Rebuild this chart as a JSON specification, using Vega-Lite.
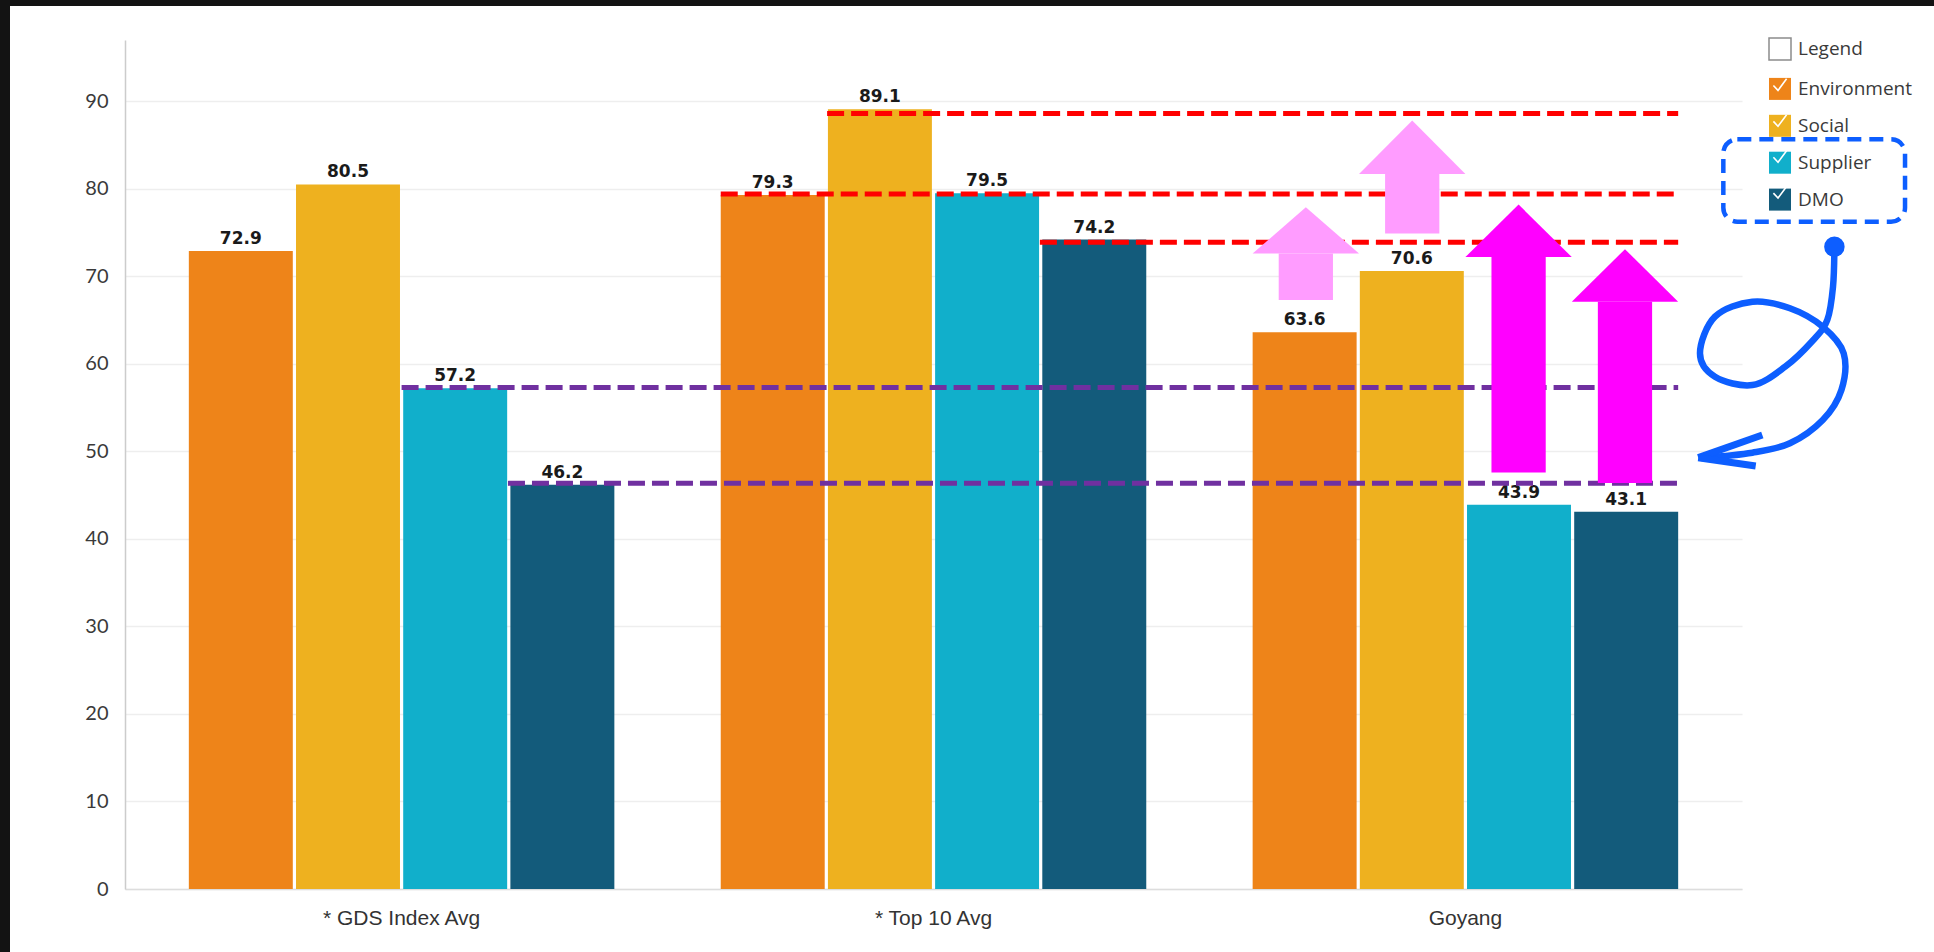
{
  "$schema": "https://vega.github.io/schema/vega-lite/v6.json",
  "background": "#ffffff",
  "padding": 0,
  "autosize": {"type": "pad"},
  "width": 1617,
  "height": 849,
  "config": {"view": {"stroke": null}, "font": "Lato"},
  "datasets": {
    "bars": [
      {"group": "* GDS Index Avg", "series": "Environment", "value": 72.9},
      {"group": "* GDS Index Avg", "series": "Social", "value": 80.5},
      {"group": "* GDS Index Avg", "series": "Supplier", "value": 57.2},
      {"group": "* GDS Index Avg", "series": "DMO", "value": 46.2},
      {"group": "* Top 10 Avg", "series": "Environment", "value": 79.3},
      {"group": "* Top 10 Avg", "series": "Social", "value": 89.1},
      {"group": "* Top 10 Avg", "series": "Supplier", "value": 79.5},
      {"group": "* Top 10 Avg", "series": "DMO", "value": 74.2},
      {"group": "Goyang", "series": "Environment", "value": 63.6},
      {"group": "Goyang", "series": "Social", "value": 70.6},
      {"group": "Goyang", "series": "Supplier", "value": 43.9},
      {"group": "Goyang", "series": "DMO", "value": 43.1}
    ],
    "legendItems": [
      {"entry": "Legend check"}, {"entry": "Environment check"}, {"entry": "Social check"}, {"entry": "Supplier check"}, {"entry": "DMO check"}
    ],
    "frame": [
      {"side": "left", "x0": -0.755, "x1": -0.7362, "y0": -7.2, "y1": 101.57},
      {"side": "top", "x0": -0.755, "x1": 2.881, "y0": 100.88, "y1": 101.57}
    ],
    "refs": [
      {"ref": "Top 10 Social", "kind": "top10", "start": 0.8, "end": 2.4, "level": 88.6},
      {"ref": "Top 10 Environment/Supplier", "kind": "top10", "start": 0.6, "end": 2.4, "level": 79.4},
      {"ref": "Top 10 DMO", "kind": "top10", "start": 1.2, "end": 2.4, "level": 73.9},
      {"ref": "GDS Supplier", "kind": "gds", "start": 0.0, "end": 2.4, "level": 57.3},
      {"ref": "GDS DMO", "kind": "gds", "start": 0.2, "end": 2.4, "level": 46.35}
    ],
    "shafts": [
      {"arrow": "Environment", "kind": "light", "left": 1.649, "right": 1.751, "bottom": 67.3, "top": 72.6},
      {"arrow": "Social", "kind": "light", "left": 1.849, "right": 1.951, "bottom": 74.9, "top": 81.7},
      {"arrow": "Supplier", "kind": "strong", "left": 2.049, "right": 2.151, "bottom": 47.6, "top": 72.2},
      {"arrow": "DMO", "kind": "strong", "left": 2.249, "right": 2.351, "bottom": 46.4, "top": 67.1}
    ],
    "heads": [
      {"arrow": "Environment", "kind": "light", "u": 1.6, "v": 72.6, "base": 72.6},
      {"arrow": "Environment", "kind": "light", "u": 1.7, "v": 77.9, "base": 72.6},
      {"arrow": "Environment", "kind": "light", "u": 1.8, "v": 72.6, "base": 72.6},
      {"arrow": "Social", "kind": "light", "u": 1.8, "v": 81.7, "base": 81.7},
      {"arrow": "Social", "kind": "light", "u": 1.9, "v": 87.8, "base": 81.7},
      {"arrow": "Social", "kind": "light", "u": 2.0, "v": 81.7, "base": 81.7},
      {"arrow": "Supplier", "kind": "strong", "u": 2.0, "v": 72.2, "base": 72.2},
      {"arrow": "Supplier", "kind": "strong", "u": 2.1, "v": 78.2, "base": 72.2},
      {"arrow": "Supplier", "kind": "strong", "u": 2.2, "v": 72.2, "base": 72.2},
      {"arrow": "DMO", "kind": "strong", "u": 2.2, "v": 67.1, "base": 67.1},
      {"arrow": "DMO", "kind": "strong", "u": 2.3, "v": 73.1, "base": 67.1},
      {"arrow": "DMO", "kind": "strong", "u": 2.4, "v": 67.1, "base": 67.1}
    ],
    "box": [{"u0": 2.4849, "u1": 2.8265, "v0": 76.24, "v1": 85.65}],
    "curve": [
      {"i": 1, "u": 2.6937, "v": 73.38},
      {"i": 2, "u": 2.6911, "v": 68.81},
      {"i": 3, "u": 2.6804, "v": 65.01},
      {"i": 4, "u": 2.6541, "v": 62.72},
      {"i": 5, "u": 2.6012, "v": 59.67},
      {"i": 6, "u": 2.5396, "v": 57.58},
      {"i": 7, "u": 2.4692, "v": 58.53},
      {"i": 8, "u": 2.441, "v": 61.2},
      {"i": 9, "u": 2.4692, "v": 65.39},
      {"i": 10, "u": 2.5396, "v": 67.1},
      {"i": 11, "u": 2.6101, "v": 66.35},
      {"i": 12, "u": 2.6718, "v": 64.24},
      {"i": 13, "u": 2.7112, "v": 61.2},
      {"i": 14, "u": 2.7069, "v": 57.01},
      {"i": 15, "u": 2.6718, "v": 53.58},
      {"i": 16, "u": 2.6101, "v": 50.92},
      {"i": 17, "u": 2.5396, "v": 49.85},
      {"i": 18, "u": 2.445, "v": 49.25}
    ],
    "barbs": [
      {"u": 2.4378, "v": 49.28, "u2": 2.5582, "v2": 51.87},
      {"u": 2.4378, "v": 49.28, "u2": 2.5458, "v2": 48.33}
    ],
    "dot": [{"u": 2.6937, "v": 73.38}]
  },
  "layer": [
    {
      "data": {"name": "bars"},
      "layer": [
        {
          "mark": {"type": "bar"},
          "encoding": {
            "x": {
              "field": "group", "type": "nominal", "sort": null,
              "scale": {"paddingInner": 0.2, "paddingOuter": 0.12},
              "axis": {"title": null, "labelAngle": 0, "labelFont": "Liberation Sans", "labelFontSize": 21, "labelColor": "#333333", "labelPadding": 18, "ticks": false, "domainColor": "#dddddd", "domainWidth": 1.5, "grid": false}
            },
            "xOffset": {"field": "series", "type": "nominal", "sort": ["Environment", "Social", "Supplier", "DMO"], "scale": {"paddingInner": 0.03, "paddingOuter": 0}},
            "y": {
              "field": "value", "type": "quantitative", "title": null,
              "scale": {"domain": [0, 97], "nice": false, "zero": false},
              "axis": {"title": null, "values": [0, 10, 20, 30, 40, 50, 60, 70, 80, 90], "labelFont": "Lato", "labelFontSize": 20, "labelColor": "#3a3a3a", "labelPadding": 17, "ticks": false, "domainColor": "#cccccc", "domainWidth": 1.5, "grid": true, "gridColor": "#eeeeee", "gridWidth": 1.5}
            },
            "color": {
              "field": "series", "type": "nominal",
              "scale": {"domain": ["Legend", "Environment", "Social", "Supplier", "DMO"], "range": ["#ffffff", "#EE8419", "#EEB11F", "#11AFCB", "#135B7B"]},
              "legend": {
                "orient": "none", "legendX": 1643, "legendY": -3, "title": null, "padding": 0, "zindex": 1,
                "symbolType": "square", "symbolSize": 484, "symbolStrokeWidth": 1.5,
                "labelFont": "Open Sans", "labelFontSize": 19, "labelColor": "#3a3a3a", "labelOffset": 6, "rowPadding": 13.9,
                "encode": {"symbols": {"update": {"stroke": {"signal": "datum.value === 'Legend' ? '#8c8c8c' : null"}}}}
              }
            }
          }
        },
        {
          "mark": {"type": "text", "baseline": "alphabetic", "dy": -7, "font": "DejaVu Sans", "fontWeight": "bold", "fontSize": 17, "color": "#1a1a1a"},
          "encoding": {
            "x": {"field": "group", "type": "nominal", "sort": null, "scale": {"paddingInner": 0.2, "paddingOuter": 0.12}},
            "xOffset": {"field": "series", "type": "nominal", "sort": ["Environment", "Social", "Supplier", "DMO"], "scale": {"paddingInner": 0.03, "paddingOuter": 0}},
            "y": {"field": "value", "type": "quantitative", "title": null, "scale": {"domain": [0, 97], "nice": false, "zero": false}},
            "text": {"field": "value", "type": "quantitative", "format": ".1f"}
          }
        }
      ]
    },
    {
      "layer": [
        {
          "data": {"name": "frame"},
          "mark": {"type": "rect", "fill": "#131313"},
          "encoding": {
            "x": {"field": "x0", "type": "quantitative", "scale": {"domain": [-0.52, 2.52], "nice": false, "zero": false}, "axis": null},
            "x2": {"field": "x1"},
            "y": {"field": "y0", "type": "quantitative", "title": null, "scale": {"domain": [0, 97], "nice": false, "zero": false}},
            "y2": {"field": "y1"}
          }
        },
        {
          "data": {"name": "refs"},
          "mark": {"type": "rule", "strokeWidth": 5, "strokeDash": [17, 7]},
          "encoding": {
            "x": {"field": "start", "type": "quantitative", "scale": {"domain": [-0.52, 2.52], "nice": false, "zero": false}, "axis": null},
            "x2": {"field": "end"},
            "y": {"field": "level", "type": "quantitative", "title": null, "scale": {"domain": [0, 97], "nice": false, "zero": false}},
            "color": {"condition": {"test": "datum.kind === 'top10'", "value": "#FF0000"}, "value": "#7030A0"}
          }
        },
        {
          "data": {"name": "shafts"},
          "mark": {"type": "rect"},
          "encoding": {
            "x": {"field": "left", "type": "quantitative", "scale": {"domain": [-0.52, 2.52], "nice": false, "zero": false}, "axis": null},
            "x2": {"field": "right"},
            "y": {"field": "bottom", "type": "quantitative", "title": null, "scale": {"domain": [0, 97], "nice": false, "zero": false}},
            "y2": {"field": "top"},
            "fill": {"condition": {"test": "datum.kind === 'strong'", "value": "#FF00FF"}, "value": "#FF9CFF"}
          }
        },
        {
          "data": {"name": "heads"},
          "mark": {"type": "area", "interpolate": "linear"},
          "encoding": {
            "x": {"field": "u", "type": "quantitative", "scale": {"domain": [-0.52, 2.52], "nice": false, "zero": false}, "axis": null},
            "y": {"field": "v", "type": "quantitative", "title": null, "stack": null, "scale": {"domain": [0, 97], "nice": false, "zero": false}},
            "y2": {"field": "base"},
            "detail": {"field": "arrow", "type": "nominal"},
            "fill": {"condition": {"test": "datum.kind === 'strong'", "value": "#FF00FF"}, "value": "#FF9CFF"}
          }
        },
        {
          "data": {"name": "box"},
          "mark": {"type": "rect", "fill": "transparent", "stroke": "#0D5EFF", "strokeWidth": 4.5, "strokeDash": [14, 8], "cornerRadius": 14},
          "encoding": {
            "x": {"field": "u0", "type": "quantitative", "scale": {"domain": [-0.52, 2.52], "nice": false, "zero": false}, "axis": null},
            "x2": {"field": "u1"},
            "y": {"field": "v0", "type": "quantitative", "title": null, "scale": {"domain": [0, 97], "nice": false, "zero": false}},
            "y2": {"field": "v1"}
          }
        },
        {
          "data": {"name": "curve"},
          "mark": {"type": "line", "interpolate": "cardinal", "strokeWidth": 6.5, "strokeCap": "round", "color": "#0D5EFF"},
          "encoding": {
            "x": {"field": "u", "type": "quantitative", "scale": {"domain": [-0.52, 2.52], "nice": false, "zero": false}, "axis": null},
            "y": {"field": "v", "type": "quantitative", "title": null, "scale": {"domain": [0, 97], "nice": false, "zero": false}},
            "order": {"field": "i", "type": "quantitative"}
          }
        },
        {
          "data": {"name": "barbs"},
          "mark": {"type": "rule", "strokeWidth": 7, "strokeCap": "butt", "color": "#0D5EFF"},
          "encoding": {
            "x": {"field": "u", "type": "quantitative", "scale": {"domain": [-0.52, 2.52], "nice": false, "zero": false}, "axis": null},
            "x2": {"field": "u2"},
            "y": {"field": "v", "type": "quantitative", "title": null, "scale": {"domain": [0, 97], "nice": false, "zero": false}},
            "y2": {"field": "v2"}
          }
        },
        {
          "data": {"name": "dot"},
          "mark": {"type": "point", "filled": true, "shape": "circle", "size": 420, "opacity": 1, "color": "#0D5EFF"},
          "encoding": {
            "x": {"field": "u", "type": "quantitative", "scale": {"domain": [-0.52, 2.52], "nice": false, "zero": false}, "axis": null},
            "y": {"field": "v", "type": "quantitative", "title": null, "scale": {"domain": [0, 97], "nice": false, "zero": false}}
          }
        },
        {
          "data": {"name": "legendItems"},
          "mark": {"type": "point", "filled": false, "opacity": 0, "size": 484, "color": "#ffffff"},
          "encoding": {
            "shape": {
              "field": "entry", "type": "nominal",
              "scale": {"domain": ["Legend check", "Environment check", "Social check", "Supplier check", "DMO check"], "range": ["M-0.6,0.05L-0.18,0.5L0.6,-0.55", "M-0.6,0.05L-0.18,0.5L0.6,-0.55", "M-0.6,0.05L-0.18,0.5L0.6,-0.55", "M-0.6,0.05L-0.18,0.5L0.6,-0.55", "M-0.6,0.05L-0.18,0.5L0.6,-0.55"]},
              "legend": {
                "orient": "none", "legendX": 1643, "legendY": -3, "title": null, "padding": 0, "zindex": 2,
                "symbolSize": 484, "symbolStrokeWidth": 1.6, "symbolFillColor": "transparent", "symbolStrokeColor": "#ffffff", "symbolOpacity": 1,
                "labelExpr": "''", "labelFont": "Open Sans", "labelFontSize": 19, "labelOffset": 6, "rowPadding": 13.9,
                "encode": {"symbols": {"update": {"opacity": {"value": 1}, "size": {"value": 484}, "fill": {"value": "transparent"}, "stroke": {"signal": "datum.value === 'Legend check' ? '#5a5a5a' : 'rgba(255,255,255,0.85)'"}}}}
              }
            }
          }
        }
      ]
    }
  ],
  "resolve": {"scale": {"x": "independent"}, "axis": {"x": "independent"}}
}
